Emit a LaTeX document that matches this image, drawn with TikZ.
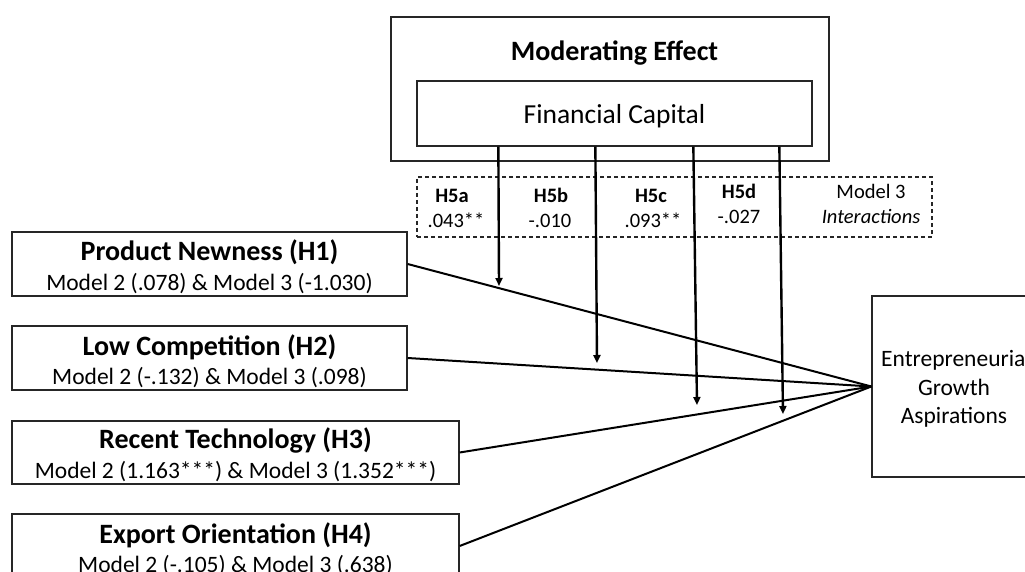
\documentclass[tikz,border=0pt]{standalone}
\usepackage{fontspec}
\setmainfont{Carlito}
\usetikzlibrary{arrows.meta, positioning}

\begin{document}
\begin{tikzpicture}[x=1pt,y=-1pt,
  box/.style={draw=black!85,line width=1.3pt,inner sep=0pt},
  dbox/.style={draw=black!85,line width=1.2pt,dash pattern=on 4pt off 3pt,inner sep=0pt},
  head/.style={anchor=base,font=\bfseries\fontsize{28}{32}\selectfont},
  sub/.style={anchor=base,font=\fontsize{23.5}{28}\selectfont},
  hyp/.style={anchor=base,font=\bfseries\fontsize{20.5}{24}\selectfont},
  val/.style={anchor=base,font=\fontsize{20.5}{24}\selectfont},
  link/.style={line width=2pt},
  mod/.style={line width=2.4pt,-{Triangle[length=8pt,width=7pt]}}]
  % frame of the picture
  \useasboundingbox (0,0) rectangle (1025,572);
  \clip (0,0) rectangle (1025,572);
  % moderator
  \node[box,minimum width=438pt,minimum height=144pt] (me) at (610,89) {};
  \node[anchor=base,font=\bfseries\fontsize{28}{32}\selectfont] (met) at (614.5,61) {Moderating Effect};
  \node[box,minimum width=395pt,minimum height=65pt] (fc) at (614.5,113.5) {};
  \node[anchor=base,font=\fontsize{27.5}{32}\selectfont] (fct) at (614.5,124) {Financial Capital};
  % interaction terms
  \node[dbox,minimum width=515pt,minimum height=60pt] (ix) at (674.5,207) {};
  \node[hyp] (h5a) at (452,203) {H5a};
  \node[val] (v5a) at (456,228) {.043**};
  \node[hyp] (h5b) at (551,203) {H5b};
  \node[val] (v5b) at (550,228) {-.010};
  \node[hyp] (h5c) at (651,203) {H5c};
  \node[val] (v5c) at (653,228) {.093**};
  \node[hyp] (h5d) at (739,199) {H5d};
  \node[val] (v5d) at (739,224) {-.027};
  \node[val] (m3) at (871,199) {Model 3};
  \node[val] (m3i) at (871,224) {\itshape Interactions};
  % predictors
  \node[box,minimum width=395pt,minimum height=64pt] (h1) at (209.5,264) {};
  \node[head] (h1t) at (209.5,260) {Product Newness (H1)};
  \node[sub] (h1s) at (209.5,290) {Model 2 (.078) \& Model 3 (-1.030)};
  \node[box,minimum width=395pt,minimum height=64pt] (h2) at (209.5,358) {};
  \node[head] (h2t) at (209.5,355) {Low Competition (H2)};
  \node[sub] (h2s) at (209.5,384) {Model 2 (-.132) \& Model 3 (.098)};
  \node[box,minimum width=447pt,minimum height=63pt] (h3) at (235.5,452.5) {};
  \node[head] (h3t) at (235.5,448) {Recent Technology (H3)};
  \node[sub] (h3s) at (235.5,478) {Model 2 (1.163***) \& Model 3 (1.352***)};
  \node[box,minimum width=447pt,minimum height=64pt] (h4) at (235.5,546) {};
  \node[head] (h4t) at (235.5,543) {Export Orientation (H4)};
  \node[sub] (h4s) at (235.5,572) {Model 2 (-.105) \& Model 3 (.638)};
  % outcome
  \node[box,minimum width=164pt,minimum height=181pt] (ega) at (954,386.5) {};
  \node[sub,font=\fontsize{23.5}{28}\selectfont] (egt1) at (956,366) {Entrepreneurial};
  \node[sub,font=\fontsize{23.5}{28}\selectfont] (egt2) at (954,395) {Growth};
  \node[sub,font=\fontsize{23.5}{28}\selectfont] (egt3) at (954,423) {Aspirations};
  % main effects
  \draw[link] (h1.east) -- (ega.west);
  \draw[link] (h2.east) -- (ega.west);
  \draw[link] (h3.east) -- (ega.west);
  \draw[link] (h4.east) -- (ega.west);
  % moderating arrows
  \coordinate (ea) at (499,286);
  \coordinate (eb) at (597,363);
  \coordinate (ec) at (697,405);
  \coordinate (ed) at (783,414);
  \draw[mod] ([xshift=82pt]fc.south west) -- (ea);
  \draw[mod] ([xshift=179pt]fc.south west) -- (eb);
  \draw[mod] ([xshift=277pt]fc.south west) -- (ec);
  \draw[mod] ([xshift=363pt]fc.south west) -- (ed);
\end{tikzpicture}
\end{document}
